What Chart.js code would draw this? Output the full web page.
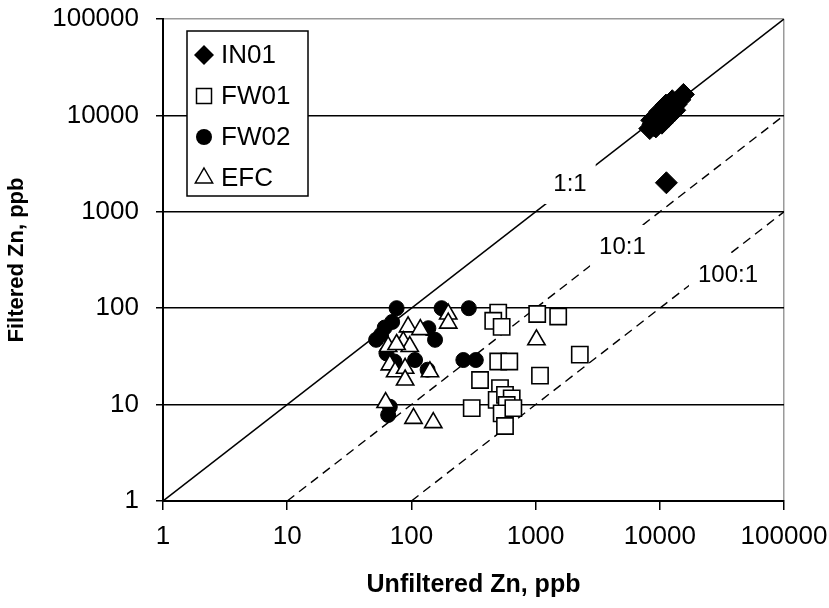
<!DOCTYPE html>
<html>
<head>
<meta charset="utf-8">
<script src="https://cdn.jsdelivr.net/npm/chart.js@4.4.1/dist/chart.umd.min.js"></script>
<style>
html,body{margin:0;padding:0;background:#fff;}
#wrap{width:829px;height:608px;}
</style>
</head>
<body>
<div id="wrap"><canvas id="c" width="829" height="608"></canvas></div>
<script>
// ---- data ----
const tickValues = [1, 10, 100, 1000, 10000, 100000];
const tickLabels = ['1', '10', '100', '1000', '10000', '100000'];

const seriesNames = ['IN01', 'FW01', 'FW02', 'EFC'];

const IN01_x = [8300, 8800, 9000, 9400, 9800, 10200, 10500, 11000, 11500, 12000, 12800, 13500, 14500, 15500, 9300, 10400, 11800, 13200, 8600, 10000, 11200, 12600, 11300];
const IN01_y = [7300, 8100, 7800, 8700, 9200, 8900, 10000, 9800, 11000, 11300, 12200, 13000, 14500, 16500, 7600, 8300, 9800, 11300, 8900, 11000, 12800, 14200, 2000];

const FW01_x = [500, 456, 533, 1030, 1520, 2270, 1085, 500, 614, 357, 306, 517, 486, 567, 642, 585, 533, 567, 662];
const FW01_y = [90, 74, 64, 87, 82, 33, 20, 28, 28, 18, 9.2, 14.8, 11.2, 12.6, 11.6, 9.9, 8.1, 6.0, 9.2];

const FW02_x = [76, 175, 290, 70, 61, 57, 52, 137, 155, 63, 73, 107, 135, 262, 330, 65, 67];
const FW02_y = [100, 100, 100, 72, 63, 53, 47, 62, 47, 34, 28, 29, 23, 29, 29, 7.8, 9.5];

const EFC_x = [198, 198, 94, 118, 65, 86, 97, 76, 67, 74, 89, 89, 141, 62, 104, 150, 1016];
const EFC_y = [87, 70, 64, 60, 40, 45, 40, 42, 25.8, 21.9, 23.8, 18, 21.9, 10.5, 7.2, 6.5, 47];

// reference ratio lines (start and end points)
const line11_x = [1, 100000];
const line11_y = [1, 100000];
const line101_x = [10, 100000];
const line101_y = [1, 10000];
const line1001_x = [100, 100000];
const line1001_y = [1, 1000];

const ratioLabels = ['1:1', '10:1', '100:1'];
const ratioLabelX = [1892, 5000, 35400];
const ratioLabelY = [1990, 442, 226];

// ---- helpers ----
function pts(xs, ys) { return xs.map((x, i) => ({ x: x, y: ys[i] })); }
const FONT = "'Liberation Sans', Arial, Helvetica, sans-serif";

const ratioLabelPlugin = {
  id: 'ratioLabels',
  afterDatasetsDraw(chart) {
    const ctx = chart.ctx;
    const xs = chart.scales.x, ys = chart.scales.y;
    ctx.save();
    ctx.font = '24px ' + FONT;
    ctx.textAlign = 'center';
    ctx.textBaseline = 'middle';
    ratioLabels.forEach((t, i) => {
      const px = xs.getPixelForValue(ratioLabelX[i]);
      const py = ys.getPixelForValue(ratioLabelY[i]);
      const w = ctx.measureText(t).width + 18;
      const h = 42;
      ctx.fillStyle = '#fff';
      ctx.fillRect(px - w / 2, py - h / 2, w, h);
      ctx.fillStyle = '#000';
      ctx.fillText(t, px, py + 1);
    });
    ctx.restore();
  }
};

function drawMarker(ctx, style, x, y) {
  ctx.beginPath();
  if (style === 'diamond') {
    const r = 10;
    ctx.moveTo(x, y - r); ctx.lineTo(x + r, y); ctx.lineTo(x, y + r); ctx.lineTo(x - r, y); ctx.closePath();
    ctx.fillStyle = '#000'; ctx.fill();
  } else if (style === 'square') {
    const s = 7.5;
    ctx.rect(x - s, y - s, 2 * s, 2 * s);
    ctx.fillStyle = '#fff'; ctx.fill();
    ctx.lineWidth = 1.5; ctx.strokeStyle = '#000'; ctx.stroke();
  } else if (style === 'circle') {
    ctx.arc(x, y, 8, 0, Math.PI * 2);
    ctx.fillStyle = '#000'; ctx.fill();
  } else {
    const r = 10;
    ctx.moveTo(x, y - r);
    ctx.lineTo(x + r * 0.866, y + r * 0.5);
    ctx.lineTo(x - r * 0.866, y + r * 0.5);
    ctx.closePath();
    ctx.fillStyle = '#fff'; ctx.fill();
    ctx.lineWidth = 1.5; ctx.strokeStyle = '#000'; ctx.stroke();
  }
}

const legendPlugin = {
  id: 'boxLegend',
  afterDraw(chart) {
    const ctx = chart.ctx;
    const left = chart.chartArea.left + 24, top = chart.chartArea.top + 12;
    const w = 121, h = 165;
    ctx.save();
    ctx.fillStyle = '#fff';
    ctx.fillRect(left, top, w, h);
    ctx.lineWidth = 1.5;
    ctx.strokeStyle = '#000';
    ctx.strokeRect(left, top, w, h);
    const styles = ['diamond', 'square', 'circle', 'triangle'];
    ctx.font = '26px ' + FONT;
    ctx.textBaseline = 'middle';
    seriesNames.forEach((n, i) => {
      const cy = top + 24 + i * 41;
      drawMarker(ctx, styles[i], left + 17, cy);
      ctx.fillStyle = '#000';
      ctx.fillText(n, left + 34, cy + 1);
    });
    ctx.restore();
  }
};

const lineCommon = { showLine: true, pointRadius: 0, borderColor: '#000', fill: false, tension: 0 };

new Chart(document.getElementById('c'), {
  type: 'scatter',
  data: {
    datasets: [
      { label: 'EFC', data: pts(EFC_x, EFC_y), pointStyle: 'triangle', pointRadius: 10, pointHoverRadius: 10,
        backgroundColor: '#fff', borderColor: '#000', borderWidth: 1.6, order: 0 },
      { label: 'FW02', data: pts(FW02_x, FW02_y), pointStyle: 'circle', pointRadius: 7.5, pointHoverRadius: 7.5,
        backgroundColor: '#000', borderColor: '#000', borderWidth: 1, order: 1 },
      { label: 'FW01', data: pts(FW01_x, FW01_y), pointStyle: 'rect', pointRadius: 11.5, pointHoverRadius: 11.5,
        backgroundColor: '#fff', borderColor: '#000', borderWidth: 1.6, order: 2 },
      { label: 'IN01', data: pts(IN01_x, IN01_y), pointStyle: 'rectRot', pointRadius: 11, pointHoverRadius: 11,
        backgroundColor: '#000', borderColor: '#000', borderWidth: 1, order: 3 },
      Object.assign({ label: '1:1', data: pts(line11_x, line11_y), borderWidth: 1.5, order: 4 }, lineCommon),
      Object.assign({ label: '10:1', data: pts(line101_x, line101_y), borderWidth: 1.4, borderDash: [9, 6], order: 5 }, lineCommon),
      Object.assign({ label: '100:1', data: pts(line1001_x, line1001_y), borderWidth: 1.4, borderDash: [9, 6], order: 6 }, lineCommon)
    ]
  },
  options: {
    responsive: false,
    animation: false,
    events: [],
    layout: { padding: { top: 19, right: 45, left: 0, bottom: 0 } },
    plugins: { legend: { display: false }, tooltip: { enabled: false } },
    scales: {
      x: {
        type: 'logarithmic', min: 1, max: 100000, position: 'bottom',
        afterBuildTicks: (s) => { s.ticks = tickValues.map(v => ({ value: v })); },
        afterFit: (s) => { s.height = 107; },
        ticks: {
          autoSkip: false, maxRotation: 0, padding: 0, color: '#000',
          font: { family: FONT, size: 26 },
          callback: (v) => tickLabels[tickValues.indexOf(v)]
        },
        grid: {
          drawOnChartArea: true, drawTicks: true, tickLength: 20,
          tickBorderDash: [8, 300],
          color: (c) => (c.tick && c.tick.value === 100000 ? '#9a9a9a' : 'rgba(0,0,0,0)'),
          tickColor: '#000', lineWidth: 1.5, tickWidth: 1.5
        },
        border: { display: true, color: '#000', width: 2 },
        title: { display: true, text: 'Unfiltered Zn, ppb', color: '#000',
          font: { family: FONT, size: 25, weight: 'bold' }, padding: { top: 0, bottom: 8 } }
      },
      y: {
        type: 'logarithmic', min: 1, max: 100000, position: 'left',
        afterBuildTicks: (s) => { s.ticks = tickValues.map(v => ({ value: v })); },
        afterFit: (s) => { s.width = 163; },
        ticks: {
          autoSkip: false, padding: 3, color: '#000',
          font: { family: FONT, size: 26 },
          callback: (v) => tickLabels[tickValues.indexOf(v)]
        },
        grid: {
          drawOnChartArea: true, drawTicks: true, tickLength: 21,
          tickBorderDash: [0, 14, 8, 300],
          color: (c) => (c.tick && c.tick.value === 100000 ? '#9a9a9a' : '#000'),
          tickColor: '#000', lineWidth: 1.5, tickWidth: 1.5
        },
        border: { display: true, color: '#000', width: 2 },
        title: { display: true, text: 'Filtered Zn, ppb', color: '#000',
          font: { family: FONT, size: 22, weight: 'bold' }, padding: { top: 4, bottom: 0 } }
      }
    }
  },
  plugins: [ratioLabelPlugin, legendPlugin]
});
</script>
</body>
</html>
